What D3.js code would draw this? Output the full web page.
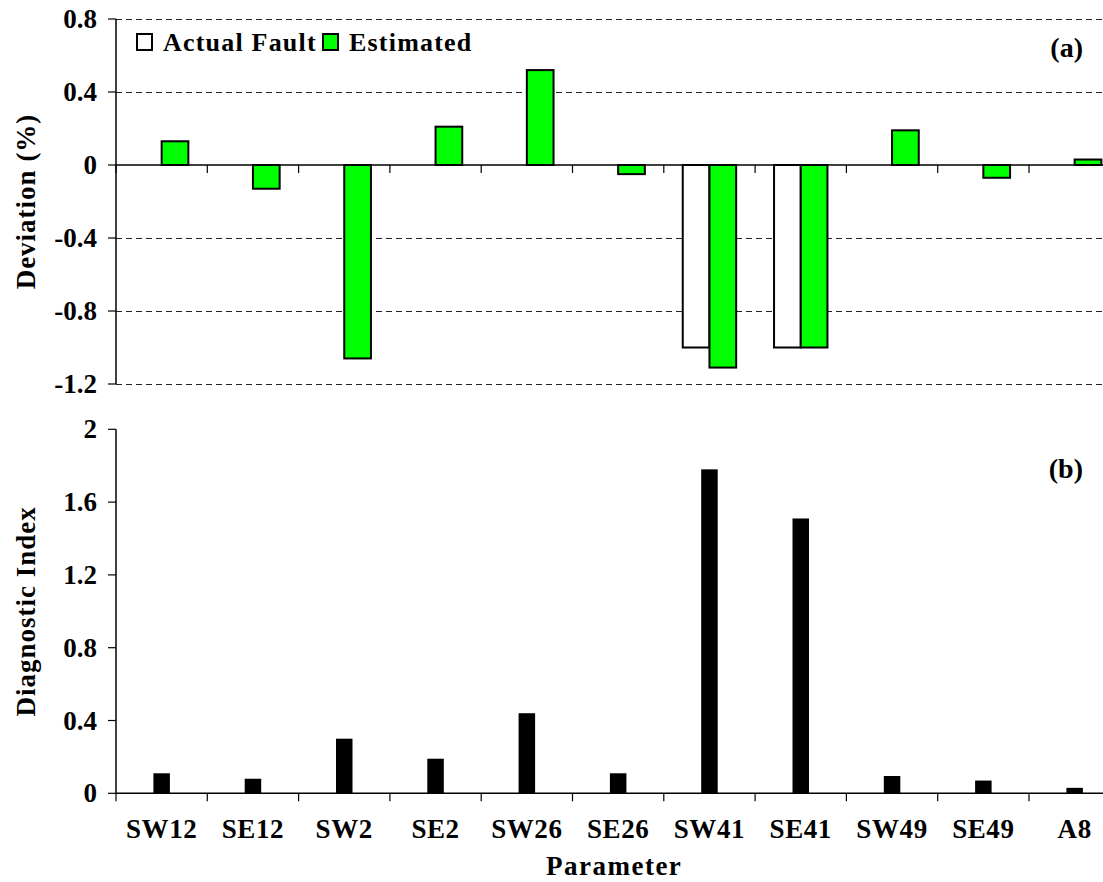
<!DOCTYPE html>
<html>
<head>
<meta charset="utf-8">
<script src="https://cdn.jsdelivr.net/npm/d3@7"></script>
<style>
  html, body { margin: 0; padding: 0; background: #fff; }
  svg text { font-family: "Liberation Serif", "Times New Roman", serif; font-weight: bold; fill: #000; }
</style>
</head>
<body>
<svg id="chart" width="1103" height="882"></svg>
<script>
// Parameters on the shared category axis
const categories = ["SW12", "SE12", "SW2", "SE2", "SW26", "SE26", "SW41", "SE41", "SW49", "SE49", "A8"];

// Panel (a): deviation (%) of each parameter
const actualFault = [0, 0, 0, 0, 0, 0, -1.0, -1.0, 0, 0, 0];
const estimated   = [0.13, -0.13, -1.06, 0.21, 0.52, -0.05, -1.11, -1.0, 0.19, -0.07, 0.03];

// Panel (b): diagnostic index
const diagnosticIndex = [0.11, 0.08, 0.30, 0.19, 0.44, 0.11, 1.78, 1.51, 0.095, 0.07, 0.03];

// Axis tick values
const ticksA = [0.8, 0.4, 0, -0.4, -0.8, -1.2];
const ticksB = [2, 1.6, 1.2, 0.8, 0.4, 0];

const svg = d3.select("#chart");
const FS = 27;

const x = d3.scaleBand().domain(categories).range([116, 1120.3]).paddingInner(0).paddingOuter(0);
const yA = d3.scaleLinear().domain([-1.2, 0.8]).range([384, 19]);
const yB = d3.scaleLinear().domain([0, 2]).range([793.3, 429.3]);

// plain hyphen for negative numbers
const fmt = v => String(v);

// ---------- Panel (a) ----------
const gA = svg.append("g");

// dashed horizontal gridlines
gA.selectAll("line.grid").data(ticksA.filter(v => v !== 0)).join("line")
  .attr("x1", 116).attr("x2", 1103)
  .attr("y1", d => Math.round(yA(d)) + 0.5).attr("y2", d => Math.round(yA(d)) + 0.5)
  .attr("stroke", "#222").attr("stroke-width", 1).attr("stroke-dasharray", "6,4");

// bars: actual fault (white) left, estimated (green) right
const bw = 26.7;
function barRect(g, vals, offset, fill) {
  g.selectAll(null).data(vals.map((v, i) => ({ v, c: categories[i] })).filter(d => d.v !== 0)).join("rect")
    .attr("x", d => x(d.c) + x.bandwidth() / 2 + offset)
    .attr("width", bw)
    .attr("y", d => Math.min(yA(d.v), yA(0)))
    .attr("height", d => Math.abs(yA(d.v) - yA(0)))
    .attr("fill", fill).attr("stroke", "#000").attr("stroke-width", 2);
}
barRect(gA, actualFault, -bw, "#ffffff");
barRect(gA, estimated, 0, "#00ff00");

// zero line and category boundary ticks
gA.append("line").attr("x1", 116).attr("x2", 1103).attr("y1", yA(0)).attr("y2", yA(0))
  .attr("stroke", "#000").attr("stroke-width", 1.5);
const bounds = categories.map(c => x(c)).concat([x.range()[1]]);
gA.selectAll("line.xt").data(bounds).join("line")
  .attr("x1", d => d).attr("x2", d => d).attr("y1", yA(0)).attr("y2", yA(0) + 8)
  .attr("stroke", "#000").attr("stroke-width", 1.2);

// y axis
gA.append("line").attr("x1", 116).attr("x2", 116).attr("y1", yA(0.8)).attr("y2", yA(-1.2))
  .attr("stroke", "#000").attr("stroke-width", 1.5);
gA.selectAll("line.yt").data(ticksA).join("line")
  .attr("x1", 108).attr("x2", 116).attr("y1", d => yA(d)).attr("y2", d => yA(d))
  .attr("stroke", "#000").attr("stroke-width", 1.2);
gA.selectAll("text.yl").data(ticksA).join("text")
  .attr("x", 97).attr("y", d => yA(d) + 9)
  .attr("text-anchor", "end").attr("font-size", FS)
  .text(fmt);

gA.append("text")
  .attr("transform", `translate(35,${(yA(0.8) + yA(-1.2)) / 2}) rotate(-90)`)
  .attr("text-anchor", "middle").attr("font-size", FS).attr("letter-spacing", 1)
  .text("Deviation (%)");

gA.append("text").attr("x", 1083).attr("y", 57).attr("text-anchor", "end")
  .attr("font-size", 28).text("(a)");

// legend
const legend = gA.append("g");
const legendItems = [
  { name: "Actual Fault", fill: "#ffffff", x: 137 },
  { name: "Estimated", fill: "#00ff00", x: 323 }
];
legendItems.forEach(it => {
  legend.append("rect").attr("x", it.x).attr("y", 34).attr("width", 15).attr("height", 16)
    .attr("fill", it.fill).attr("stroke", "#000").attr("stroke-width", 2);
  legend.append("text").attr("x", it.x + 26).attr("y", 51)
    .attr("font-size", 26).attr("letter-spacing", 1.2).text(it.name);
});

// ---------- Panel (b) ----------
const gB = svg.append("g");
const bwB = 16.5;
gB.selectAll("rect").data(diagnosticIndex.map((v, i) => ({ v, c: categories[i] }))).join("rect")
  .attr("x", d => x(d.c) + x.bandwidth() / 2 - bwB / 2)
  .attr("width", bwB)
  .attr("y", d => yB(d.v))
  .attr("height", d => yB(0) - yB(d.v))
  .attr("fill", "#000");

gB.append("line").attr("x1", 116).attr("x2", 1103).attr("y1", yB(0)).attr("y2", yB(0))
  .attr("stroke", "#000").attr("stroke-width", 1.5);
gB.selectAll("line.xt").data(bounds).join("line")
  .attr("x1", d => d).attr("x2", d => d).attr("y1", yB(0)).attr("y2", yB(0) + 8)
  .attr("stroke", "#000").attr("stroke-width", 1.2);

gB.append("line").attr("x1", 116).attr("x2", 116).attr("y1", yB(2)).attr("y2", yB(0))
  .attr("stroke", "#000").attr("stroke-width", 1.5);
gB.selectAll("line.yt").data(ticksB).join("line")
  .attr("x1", 108).attr("x2", 116).attr("y1", d => yB(d)).attr("y2", d => yB(d))
  .attr("stroke", "#000").attr("stroke-width", 1.2);
gB.selectAll("text.yl").data(ticksB).join("text")
  .attr("x", 97).attr("y", d => yB(d) + 9)
  .attr("text-anchor", "end").attr("font-size", FS)
  .text(fmt);

// category labels
gB.selectAll("text.cat").data(categories).join("text")
  .attr("x", d => x(d) + x.bandwidth() / 2).attr("y", 838)
  .attr("text-anchor", "middle").attr("font-size", FS).attr("letter-spacing", 0.6)
  .text(d => d);

gB.append("text")
  .attr("transform", `translate(35,${(yB(2) + yB(0)) / 2}) rotate(-90)`)
  .attr("text-anchor", "middle").attr("font-size", FS).attr("letter-spacing", 1)
  .text("Diagnostic Index");

gB.append("text").attr("x", 1083).attr("y", 478).attr("text-anchor", "end")
  .attr("font-size", 28).text("(b)");

svg.append("text").attr("x", (116 + 1120.3) / 2 - 4).attr("y", 875)
  .attr("text-anchor", "middle").attr("font-size", FS).attr("letter-spacing", 1.5)
  .text("Parameter");
</script>
</body>
</html>
